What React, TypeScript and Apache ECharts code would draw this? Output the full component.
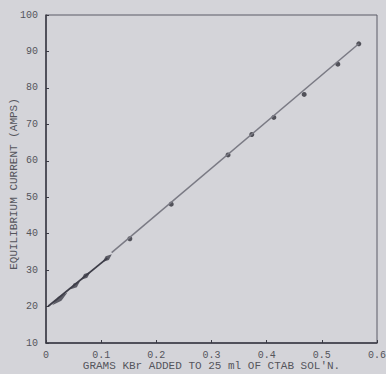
import React, { useEffect, useRef } from "react";
import * as echarts from "echarts";

const pointX = [0.025, 0.053, 0.072, 0.111, 0.152, 0.227, 0.330, 0.373, 0.413, 0.468, 0.529, 0.567];
const pointY = [22.1, 25.8, 28.4, 33.3, 38.6, 48.1, 61.6, 67.2, 71.9, 78.2, 86.5, 92.1];
const lowerLineX = [0.004, 0.111];
const lowerLineY = [20.1, 33.3];
const upperLineX = [0.119, 0.567];
const upperLineY = [34.8, 92.1];
const xTicks = ["0", "0.1", "0.2", "0.3", "0.4", "0.5", "0.6"];
const yTicks = ["10", "20", "30", "40", "50", "60", "70", "80", "90", "100"];

const FONT = "'Liberation Mono', 'DejaVu Sans Mono', monospace";

export default function App() {
  const ref = useRef<HTMLDivElement>(null);
  useEffect(() => {
    if (!ref.current) return;
    const chart = echarts.init(ref.current, null, { renderer: "svg" });
    const lowPts = pointX.map((x, i) => [x, pointY[i]]).filter((p) => p[0] <= 0.12);
    const highPts = pointX.map((x, i) => [x, pointY[i]]).filter((p) => p[0] > 0.12);
    chart.setOption({
      animation: false,
      backgroundColor: "#d4d4d9",
      grid: {
        left: 46,
        right: 9,
        top: 15,
        bottom: 31,
        containLabel: false,
        outerBoundsMode: "none",
        show: true,
        borderColor: "#5a5a66",
        borderWidth: 1,
        backgroundColor: "transparent",
      },
      xAxis: {
        type: "value",
        min: 0,
        max: 0.6,
        interval: 0.1,
        name: "GRAMS KBr ADDED TO 25 ml OF CTAB SOL'N.",
        nameLocation: "middle",
        nameGap: 17,
        nameMoveOverlap: false,
        nameTextStyle: { fontFamily: FONT, fontSize: 11, color: "#55555c" },
        axisLine: { show: true, lineStyle: { color: "#3a3a44", width: 1.5 } },
        axisTick: { show: true, inside: true, length: 3, lineStyle: { color: "#3a3a44" } },
        splitLine: { show: false },
        axisLabel: {
          fontFamily: FONT,
          fontSize: 10,
          color: "#55555c",
          margin: 7,
          formatter: (v: number) => xTicks[Math.round(v * 10)] ?? "",
        },
      },
      yAxis: {
        type: "value",
        min: 10,
        max: 100,
        interval: 10,
        name: "EQUILIBRIUM CURRENT (AMPS)",
        nameLocation: "middle",
        nameGap: 27,
        nameMoveOverlap: false,
        nameRotate: 90,
        nameTextStyle: { fontFamily: FONT, fontSize: 11, color: "#55555c", padding: [0, 10, 0, 0] },
        axisLine: { show: true, lineStyle: { color: "#3a3a44", width: 1.5 } },
        axisTick: { show: true, inside: true, length: 3, lineStyle: { color: "#3a3a44" } },
        splitLine: { show: false },
        axisLabel: {
          fontFamily: FONT,
          fontSize: 10,
          color: "#55555c",
          margin: 8,
          formatter: (v: number) => yTicks[Math.round(v / 10) - 1] ?? "",
        },
      },
      series: [
        {
          type: "line",
          data: lowerLineX.map((x, i) => [x, lowerLineY[i]]),
          showSymbol: false,
          lineStyle: { color: "#3d3d48", width: 1.8 },
        },
        {
          type: "line",
          data: upperLineX.map((x, i) => [x, upperLineY[i]]),
          showSymbol: false,
          lineStyle: { color: "#7a7a84", width: 1.5 },
        },
        {
          type: "scatter",
          data: lowPts,
          symbol: "diamond",
          symbolSize: (v: number[]) => (v[0] < 0.03 ? [5, 20] : [5, 12]),
          symbolRotate: -50,
          itemStyle: { color: "#3d3d48" },
        },
        {
          type: "scatter",
          data: highPts,
          symbol: "circle",
          symbolSize: 5,
          itemStyle: { color: "#2f2f38" },
        },
      ],
    });
    return () => chart.dispose();
  }, []);
  return <div ref={ref} style={{ width: 386, height: 374, position: "absolute", left: 0, top: 0 }} />;
}
